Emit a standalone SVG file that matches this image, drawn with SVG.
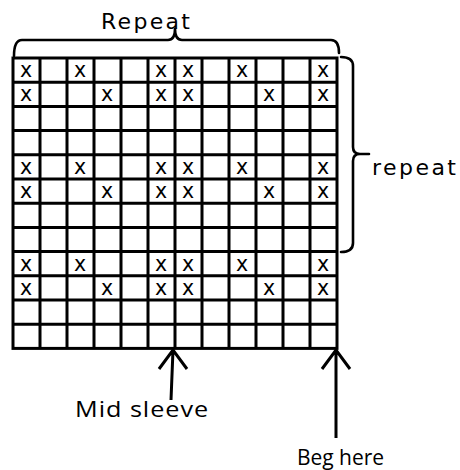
<svg xmlns="http://www.w3.org/2000/svg" width="460" height="470" viewBox="0 0 460 470">
<style>
.grid{stroke:#000;stroke-width:3;fill:none}
.brace{stroke:#000;stroke-width:2.6;fill:none;stroke-linecap:round;stroke-linejoin:round}
.arrow{stroke:#000;stroke-width:3;fill:none;stroke-linecap:butt;stroke-linejoin:miter}
.x{font-family:"DejaVu Sans",sans-serif;font-size:20.5px;fill:#000;text-anchor:middle}
.lbl{font-family:"DejaVu Sans",sans-serif;font-size:22px;fill:#000}
.lbl2{font-family:"Open Sans",sans-serif;font-size:21px;fill:#000}
</style>
<rect width="460" height="470" fill="#fff"/>
<g id="grid" class="grid">
<rect x="13" y="58" width="324" height="290.4"/>
<path d="M40,58V348.4M67,58V348.4M94,58V348.4M121,58V348.4M148,58V348.4M175,58V348.4M202,58V348.4M229,58V348.4M256,58V348.4M283,58V348.4M310,58V348.4"/>
<path d="M13,82.2H337M13,106.4H337M13,130.6H337M13,154.8H337M13,179H337M13,203.2H337M13,227.4H337M13,251.6H337M13,275.8H337M13,300H337M13,324.2H337"/>
</g>
<g id="marks">
<text class="x" x="26" y="77">x</text><text class="x" x="80" y="77">x</text><text class="x" x="161" y="77">x</text><text class="x" x="188" y="77">x</text><text class="x" x="242" y="77">x</text><text class="x" x="323" y="77">x</text>
<text class="x" x="26" y="101.2">x</text><text class="x" x="107" y="101.2">x</text><text class="x" x="161" y="101.2">x</text><text class="x" x="188" y="101.2">x</text><text class="x" x="269" y="101.2">x</text><text class="x" x="323" y="101.2">x</text>
<text class="x" x="26" y="173.8">x</text><text class="x" x="80" y="173.8">x</text><text class="x" x="161" y="173.8">x</text><text class="x" x="188" y="173.8">x</text><text class="x" x="242" y="173.8">x</text><text class="x" x="323" y="173.8">x</text>
<text class="x" x="26" y="198">x</text><text class="x" x="107" y="198">x</text><text class="x" x="161" y="198">x</text><text class="x" x="188" y="198">x</text><text class="x" x="269" y="198">x</text><text class="x" x="323" y="198">x</text>
<text class="x" x="26" y="270.6">x</text><text class="x" x="80" y="270.6">x</text><text class="x" x="161" y="270.6">x</text><text class="x" x="188" y="270.6">x</text><text class="x" x="242" y="270.6">x</text><text class="x" x="323" y="270.6">x</text>
<text class="x" x="26" y="294.8">x</text><text class="x" x="107" y="294.8">x</text><text class="x" x="161" y="294.8">x</text><text class="x" x="188" y="294.8">x</text><text class="x" x="269" y="294.8">x</text><text class="x" x="323" y="294.8">x</text>
</g>
<g id="repeat-top">
<path class="brace" d="M14,56 Q14,40 22,40 L168,40 Q175,40 175,29 Q175,40 182,40 L331,40 Q339,40 339,53"/>
<text class="lbl" x="101" y="28.5" textLength="89" lengthAdjust="spacing">Repeat</text>
</g>
<g id="repeat-side">
<path class="brace" d="M341,57 Q353,57 353,66 L353,147 Q353,154 360,154 L369,154 M360,154 Q353,154 353,161 L353,243 Q353,252 341,252"/>
<text class="lbl" x="372" y="175" textLength="84" lengthAdjust="spacing">repeat</text>
</g>
<g id="connectors">
<path class="arrow" d="M173,350 L171,400 M159,369 L173,350 L187,369"/>
<path class="arrow" d="M336,350 L336,438 M322,369 L336,350 L350,369"/>
</g>
<g id="mid-sleeve">
<text class="lbl2" transform="scale(1.2,1)" x="62.5" y="417.5" textLength="111" lengthAdjust="spacing">Mid sleeve</text>
</g>
<g id="beg-here">
<text class="lbl2" x="297" y="465" textLength="87" lengthAdjust="spacing">Beg here</text>
</g>
</svg>
